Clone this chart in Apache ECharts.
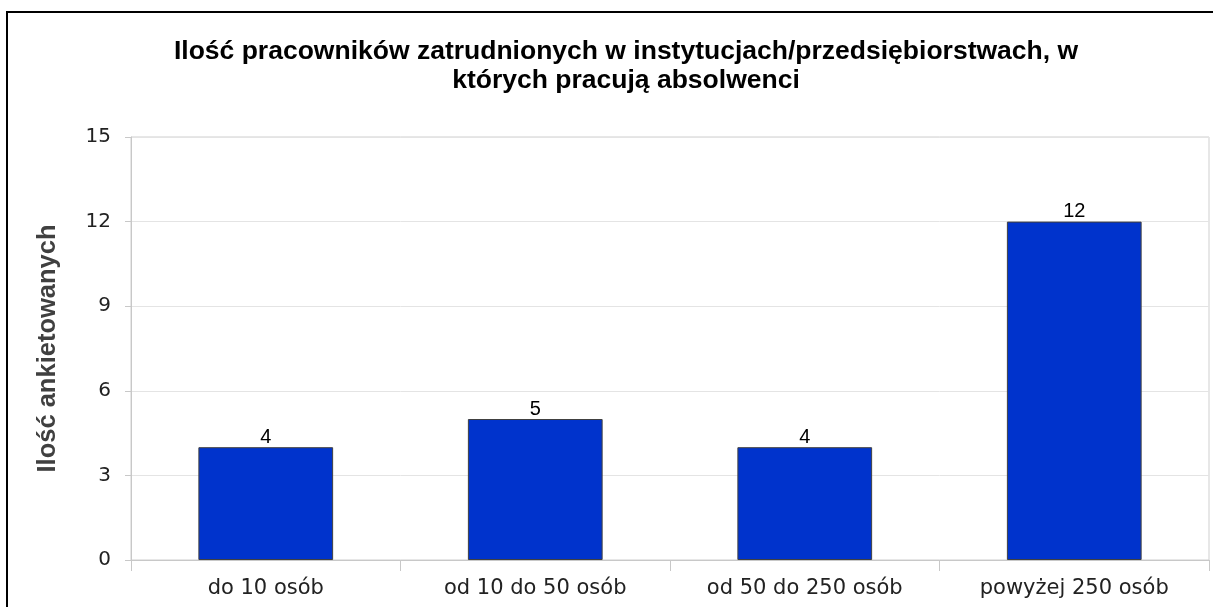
<!DOCTYPE html>
<html>
<head>
<meta charset="utf-8">
<script src="https://cdn.jsdelivr.net/npm/echarts@6/dist/echarts.min.js"></script>
<style>
  html, body { margin: 0; padding: 0; background: #fff; }
  #chart { width: 1213px; height: 607px; }
</style>
</head>
<body>
<div id="chart"></div>
<script>
const categories = ['do 10 osób', 'od 10 do 50 osób', 'od 50 do 250 osób', 'powyżej 250 osób']
const counts = [4, 5, 4, 12]
const titleText = 'Ilość pracowników zatrudnionych w instytucjach/przedsiębiorstwach, w\nktórych pracują absolwenci'
const yName = 'Ilość ankietowanych'

const chart = echarts.init(document.getElementById('chart'))

const option = {
  backgroundColor: '#fff',
  animation: false,
  title: {
    text: titleText,
    left: 621,
    top: 32,
    textAlign: 'center',
    textStyle: {
      fontFamily: '"Liberation Sans", Arial, sans-serif',
      fontWeight: 'bold',
      fontSize: 26.5,
      lineHeight: 29,
      color: '#000'
    }
  },
  graphic: [{
    type: 'rect',
    shape: { x: 7, y: 12, width: 1230, height: 620 },
    style: { fill: 'none', stroke: '#000', lineWidth: 2 }
  }],
  grid: {
    left: 131, top: 137, right: 4, bottom: 47,
    show: true,
    borderColor: '#cfcfcf',
    borderWidth: 1
  },
  xAxis: {
    type: 'category',
    data: categories,
    axisLine: { lineStyle: { color: '#c8c8c8', width: 1 } },
    axisTick: { show: true, length: 11, lineStyle: { color: '#c8c8c8' } },
    axisLabel: {
      margin: 18,
      fontFamily: '"DejaVu Sans", Verdana, sans-serif',
      fontSize: 21,
      color: '#222'
    }
  },
  yAxis: {
    type: 'value',
    min: 0,
    max: 15,
    interval: 3,
    name: yName,
    nameLocation: 'middle',
    nameGap: 70,
    nameTextStyle: {
      fontFamily: '"Liberation Sans", Arial, sans-serif',
      fontWeight: 'bold',
      fontSize: 25.5,
      color: '#404040'
    },
    axisLine: { show: true, lineStyle: { color: '#c8c8c8' } },
    axisTick: { show: true, length: 6, inside: false, lineStyle: { color: '#c8c8c8' } },
    axisLabel: {
      margin: 20,
      fontFamily: '"DejaVu Sans", Verdana, sans-serif',
      fontSize: 20,
      color: '#222'
    },
    splitLine: { lineStyle: { color: '#e4e4e4', width: 1 } }
  },
  series: [{
    type: 'bar',
    data: counts,
    barWidth: '50%',
    itemStyle: {
      color: '#0033cc',
      borderColor: '#404040',
      borderWidth: 1
    },
    label: {
      show: true,
      position: 'top',
      distance: 0,
      fontFamily: '"Liberation Sans", Arial, sans-serif',
      fontSize: 20,
      color: '#000'
    }
  }]
}

chart.setOption(option)
</script>
</body>
</html>
